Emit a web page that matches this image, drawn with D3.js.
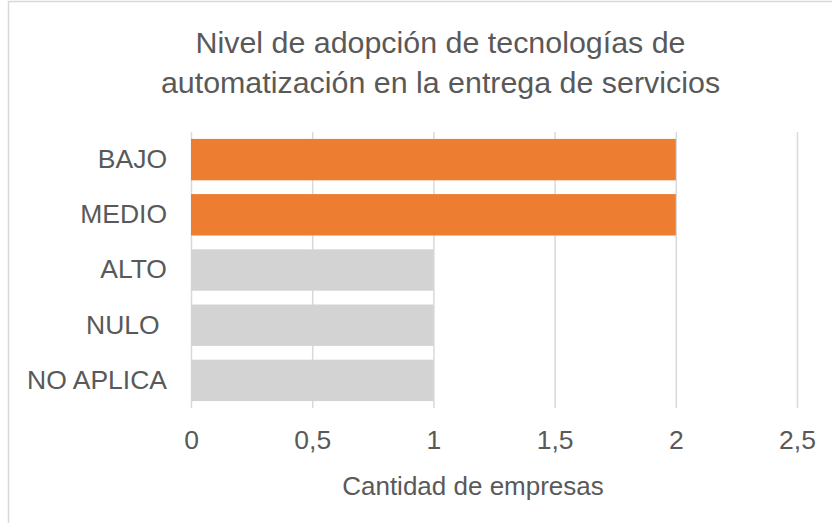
<!DOCTYPE html>
<html>
<head>
<meta charset="utf-8">
<script src="https://cdn.jsdelivr.net/npm/d3@7"></script>
<style>
  body { margin: 0; background: #fff; }
  svg text { font-family: "Liberation Sans", Arial, sans-serif; fill: #595959; }
</style>
</head>
<body>
<script>
const categories = ["BAJO", "MEDIO", "ALTO", "NULO ", "NO APLICA"];
const values = [2, 2, 1, 1, 1];
const barColors = ["#ED7D31", "#ED7D31", "#D3D3D3", "#D3D3D3", "#D3D3D3"];
const tickValues = [0, 0.5, 1, 1.5, 2, 2.5];
const titleLines = ["Nivel de adopción de tecnologías de", "automatización en la entrega de servicios"];
const xTitle = "Cantidad de empresas";

const W = 832, H = 523;
const margin = {top: 132, right: 35, bottom: 115, left: 191};
const width = W - margin.left - margin.right,
      height = H - margin.top - margin.bottom;

const svg = d3.select("body").append("svg")
    .attr("width", W)
    .attr("height", H);

// chart area border (runs past the picture on the right and bottom)
svg.append("rect")
    .attr("x", 8.5).attr("y", 1.5)
    .attr("width", 900).attr("height", 600)
    .attr("fill", "#fff")
    .attr("stroke", "#D9D9D9")
    .attr("stroke-width", 1.5);

const g = svg.append("g")
    .attr("transform", `translate(${margin.left},${margin.top})`);

const x = d3.scaleLinear().domain([0, 2.5]).range([0, width]);
const y = d3.scaleBand().domain(categories).range([0, height])
    .paddingInner(0.25).paddingOuter(0.125);

// gridlines
g.append("g")
    .attr("class", "grid")
    .call(d3.axisBottom(x).tickValues(tickValues).tickSize(height).tickFormat(""))
    .call(s => s.select(".domain").remove())
    .call(s => s.selectAll("line").attr("stroke", "#D9D9D9").attr("stroke-width", 1.5));

// bars
g.selectAll(".bar")
  .data(values)
  .join("rect")
    .attr("class", "bar")
    .attr("x", x(0))
    .attr("y", (d, i) => y(categories[i]))
    .attr("width", d => x(d) - x(0))
    .attr("height", y.bandwidth())
    .attr("fill", (d, i) => barColors[i]);

// x axis labels
g.append("g")
    .attr("transform", `translate(0,${height})`)
    .call(d3.axisBottom(x).tickValues(tickValues).tickSize(0).tickPadding(22)
      .tickFormat(d => String(d).replace(".", ",")))
    .call(s => s.select(".domain").remove())
    .call(s => s.selectAll("text").attr("font-size", 26.5).style("font-family", null));

// y axis labels
g.append("g")
    .call(d3.axisLeft(y).tickSize(0).tickPadding(24))
    .call(s => s.select(".domain").remove())
    .call(s => s.selectAll("text").attr("font-size", 26.5).style("font-family", null)
      .attr("xml:space", "preserve"));

// title
svg.append("g").selectAll("text")
  .data(titleLines)
  .join("text")
    .attr("x", 440.5)
    .attr("y", (d, i) => 53 + i * 40)
    .attr("text-anchor", "middle")
    .attr("font-size", 30.4)
    .text(d => d);

// x axis title
svg.append("text")
    .attr("x", 473)
    .attr("y", 495)
    .attr("text-anchor", "middle")
    .attr("font-size", 26)
    .text(xTitle);
</script>
</body>
</html>
